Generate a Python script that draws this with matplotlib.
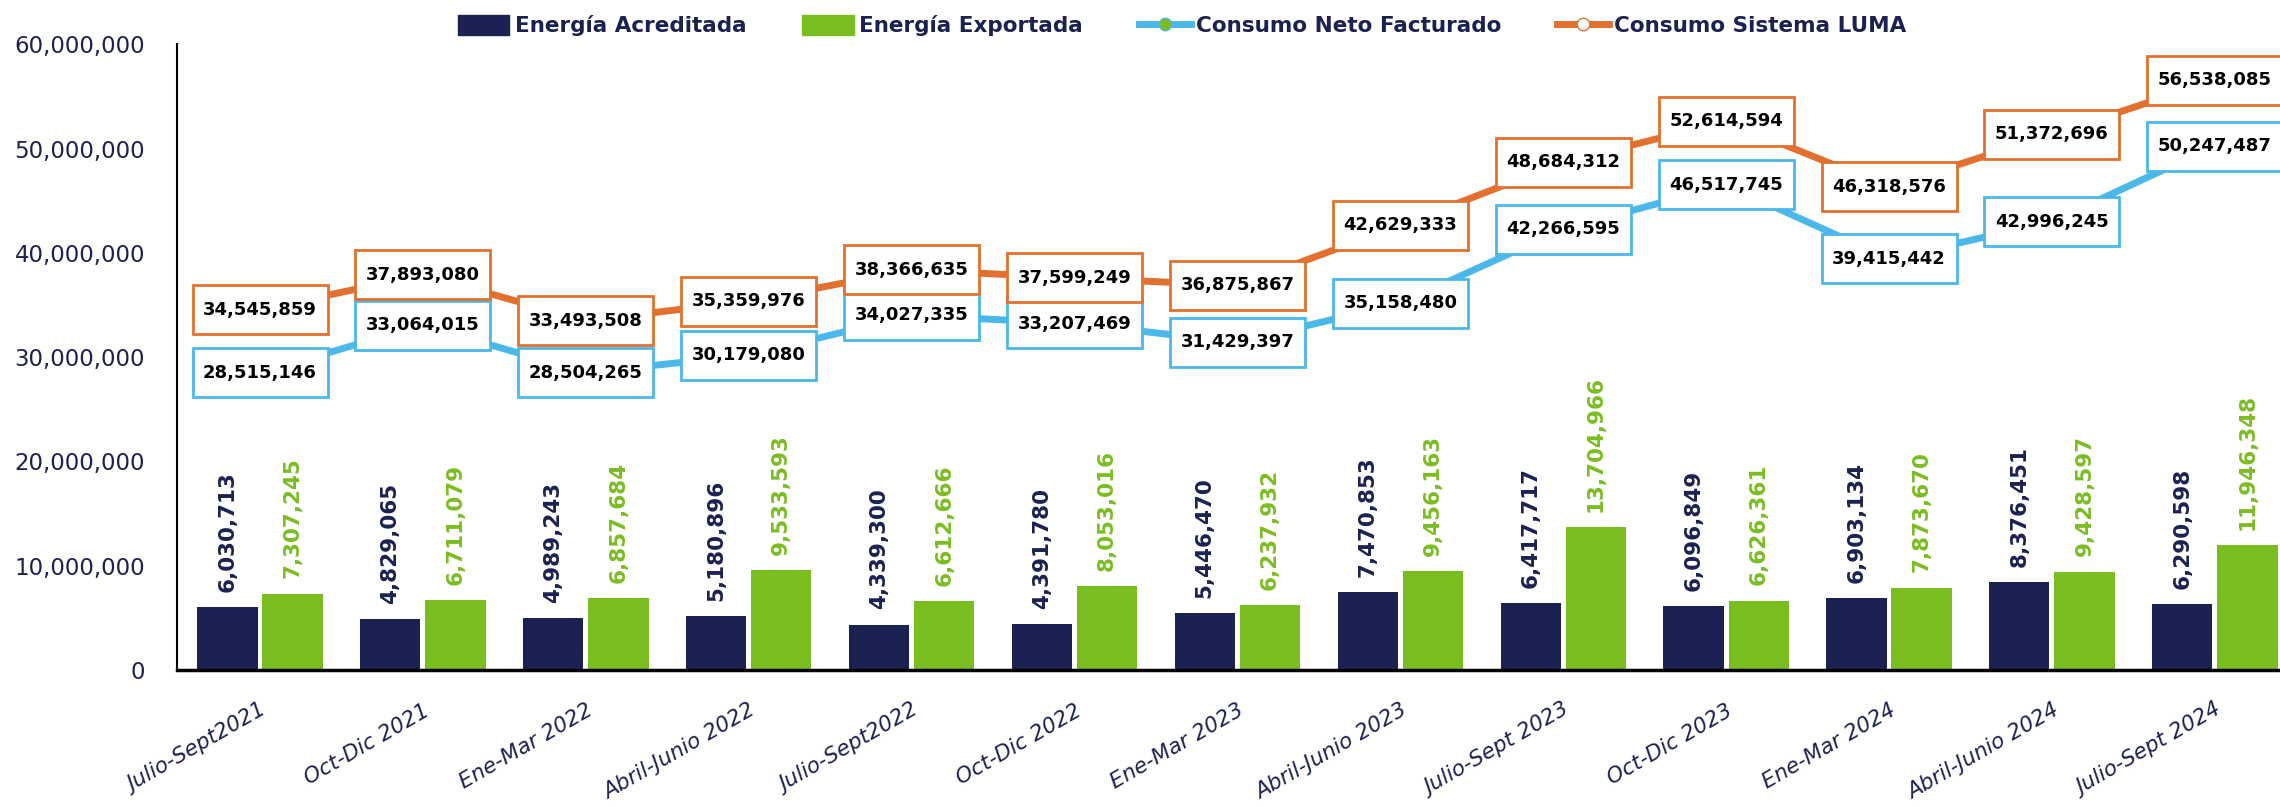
import matplotlib
matplotlib.use("Agg")
import matplotlib.pyplot as plt
import matplotlib.transforms as mtransforms
from matplotlib.lines import Line2D
from matplotlib.patches import Patch, Rectangle
import numpy as np

periods = [
    "Julio-Sept2021", "Oct-Dic 2021", "Ene-Mar 2022", "Abril-Junio 2022",
    "Julio-Sept2022", "Oct-Dic 2022", "Ene-Mar 2023", "Abril-Junio 2023",
    "Julio-Sept 2023", "Oct-Dic 2023", "Ene-Mar 2024", "Abril-Junio 2024",
    "Julio-Sept 2024",
]
energia_acreditada = [
    6030713, 4829065, 4989243, 5180896, 4339300, 4391780, 5446470,
    7470853, 6417717, 6096849, 6903134, 8376451, 6290598,
]
energia_exportada = [
    7307245, 6711079, 6857684, 9533593, 6612666, 8053016, 6237932,
    9456163, 13704966, 6626361, 7873670, 9428597, 11946348,
]
consumo_neto = [
    28515146, 33064015, 28504265, 30179080, 34027335, 33207469, 31429397,
    35158480, 42266595, 46517745, 39415442, 42996245, 50247487,
]
consumo_luma = [
    34545859, 37893080, 33493508, 35359976, 38366635, 37599249, 36875867,
    42629333, 48684312, 52614594, 46318576, 51372696, 56538085,
]

NAVY = "#1b2150"
GREEN = "#7abd21"
BLUE = "#4cb8ea"
ORANGE = "#e2712f"

fig = plt.figure(figsize=(22.8, 8.07), dpi=100)
ax = fig.add_axes([0.0776, 0.170, 0.9224, 0.775])

x = np.arange(len(periods))
w = 0.37
ax.bar(x - 0.2, energia_acreditada, w, color=NAVY, zorder=2)
ax.bar(x + 0.2, energia_exportada, w, color=GREEN, zorder=2)

for xi, v in zip(x, energia_acreditada):
    ax.annotate(f"{v:,}", (xi - 0.2, v), xytext=(0, 11), textcoords="offset points",
                rotation=90, ha="center", va="bottom", fontsize=15.5,
                fontweight="bold", color=NAVY, annotation_clip=False)
for xi, v in zip(x, energia_exportada):
    ax.annotate(f"{v:,}", (xi + 0.2, v), xytext=(0, 11), textcoords="offset points",
                rotation=90, ha="center", va="bottom", fontsize=15.5,
                fontweight="bold", color=GREEN, annotation_clip=False)

ax.plot(x, consumo_neto, color=BLUE, lw=5, zorder=3)
ax.plot(x, consumo_luma, color=ORANGE, lw=5, zorder=3)

ax.set_xlim(-0.51, 12.4)
ax.set_ylim(0, 60000000)

# fixed-size label boxes (1.35 x 0.49 in) centred on each line point
box_w, box_h = 1.35, 0.49
for series, col in ((consumo_neto, BLUE), (consumo_luma, ORANGE)):
    for xi, v in zip(x, series):
        trans = fig.dpi_scale_trans + mtransforms.ScaledTranslation(xi, v, ax.transData)
        ax.add_patch(Rectangle((-box_w / 2, -box_h / 2), box_w, box_h, transform=trans,
                               fc="white", ec=col, lw=2, zorder=4, clip_on=False))
        ax.text(xi, v, f"{v:,}", ha="center", va="center", fontsize=13,
                fontweight="bold", color="black", zorder=5, clip_on=False)

ax.set_yticks(np.arange(0, 60000001, 10000000))
ax.yaxis.set_major_formatter(matplotlib.ticker.FuncFormatter(lambda v, p: f"{int(v):,}"))
ax.tick_params(axis="y", length=0, pad=23, labelsize=16.5, labelcolor=NAVY)
ax.set_xticks(x)
ax.set_xticklabels(periods, rotation=30, ha="right", rotation_mode="anchor",
                   fontsize=15.5, style="italic", color=NAVY)
ax.tick_params(axis="x", length=0, pad=22)

for s in ("top", "right"):
    ax.spines[s].set_visible(False)
ax.spines["left"].set_linewidth(1.5)
ax.spines["bottom"].set_linewidth(2.5)

handles = [
    Patch(color=NAVY, label="Energía Acreditada"),
    Patch(color=GREEN, label="Energía Exportada"),
    Line2D([], [], color=BLUE, lw=5, marker="o", markersize=9, markerfacecolor=GREEN,
           markeredgecolor=BLUE, label="Consumo Neto Facturado"),
    Line2D([], [], color=ORANGE, lw=5, marker="o", markersize=9, markerfacecolor="white",
           markeredgecolor=ORANGE, label="Consumo Sistema LUMA"),
]
leg = fig.legend(handles=handles, loc="center", bbox_to_anchor=(0.5185, 0.968), ncol=4,
                 frameon=False, fontsize=15.5, handlelength=2.4, handleheight=1.0,
                 columnspacing=2.6, handletextpad=0.25)
for t in leg.get_texts():
    t.set_color(NAVY)
    t.set_fontweight("bold")

fig.savefig("out.png", dpi=100)
